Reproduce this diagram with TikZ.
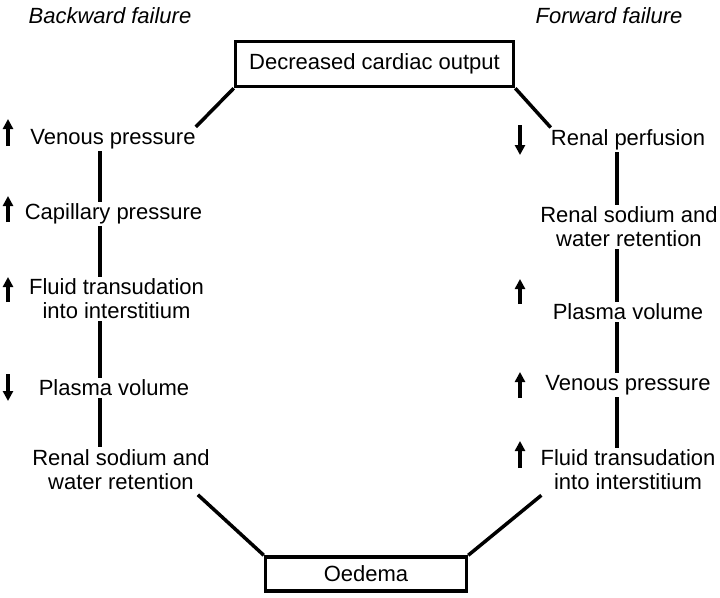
\documentclass[tikz,border=0pt]{standalone}
\usepackage{fontspec}
\setmainfont{Liberation Sans}
\usetikzlibrary{arrows.meta}
\begin{document}
\begin{tikzpicture}[x=1pt,y=-1pt,
  lbl/.style={font=\fontsize{22}{24}\selectfont, align=center, inner sep=2pt, yshift=-2pt},
  ttl/.style={font=\fontsize{22}{24}\selectfont\itshape, inner sep=0pt},
  box/.style={draw, line width=3.5pt, font=\fontsize{22}{24}\selectfont, inner sep=0pt},
  link/.style={line width=3.5pt},
  updown/.style={line width=3.5pt, -{Triangle[length=10pt,width=10pt]}}]
\useasboundingbox (0,0) rectangle (720,597);
% titles
\node[ttl] (bf) at (110,16) {Backward failure};
\node[ttl] (ff) at (609,16) {Forward failure};
% boxes
\node[box, minimum width=278pt, minimum height=45pt] (dco) at (374.5,64) {Decreased cardiac output};
\node[box, minimum width=201pt, minimum height=34pt] (oed) at (366,574) {Oedema};
% left column
\coordinate (lx) at (100,0);
\node[lbl] (vpL) at (113,137) {Venous pressure};
\node[lbl] (cpL) at (113.5,212) {Capillary pressure};
\node[lbl] (ftL) at (116.5,297) {Fluid transudation\\into interstitium};
\node[lbl] (pvL) at (114,386) {Plasma volume};
\node[lbl] (rsL) at (121,467.5) {Renal sodium and\\water retention};
% right column
\coordinate (rx) at (617,0);
\node[lbl] (rpR) at (628,138) {Renal perfusion};
\node[lbl] (rsR) at (629,225) {Renal sodium and\\water retention};
\node[lbl] (pvR) at (628,310) {Plasma volume};
\node[lbl] (vpR) at (628,383) {Venous pressure};
\node[lbl] (ftR) at (628,468) {Fluid transudation\\into interstitium};
% connectors left
\draw[link] (dco.south west) -- ([xshift=-2pt]vpL.north east);
\draw[link] (vpL.south -| lx) -- (cpL.north -| lx);
\draw[link] (cpL.south -| lx) -- (ftL.north -| lx);
\draw[link] (ftL.south -| lx) -- (pvL.north -| lx);
\draw[link] (pvL.south -| lx) -- (rsL.north -| lx);
\draw[link] ([xshift=-14pt,yshift=-3pt]rsL.south east) -- (oed.north west);
% connectors right
\draw[link] (dco.south east) -- ([xshift=2pt]rpR.north west);
\draw[link] (rpR.south -| rx) -- (rsR.north -| rx);
\draw[link] (rsR.south -| rx) -- (pvR.north -| rx);
\draw[link] (pvR.south -| rx) -- (vpR.north -| rx);
\draw[link] (vpR.south -| rx) -- (ftR.north -| rx);
\draw[link] ([xshift=3pt,yshift=-3pt]ftR.south west) -- (oed.north east);
% up/down markers
\draw[updown] (8,146) -- (8,119);
\draw[updown] (8,222) -- (8,196);
\draw[updown] (8,302) -- (8,277);
\draw[updown] (8,374) -- (8,401);
\draw[updown] (520,125) -- (520,155);
\draw[updown] (520,304) -- (520,279);
\draw[updown] (520,398) -- (520,372);
\draw[updown] (520,468) -- (520,441);
\end{tikzpicture}
\end{document}
